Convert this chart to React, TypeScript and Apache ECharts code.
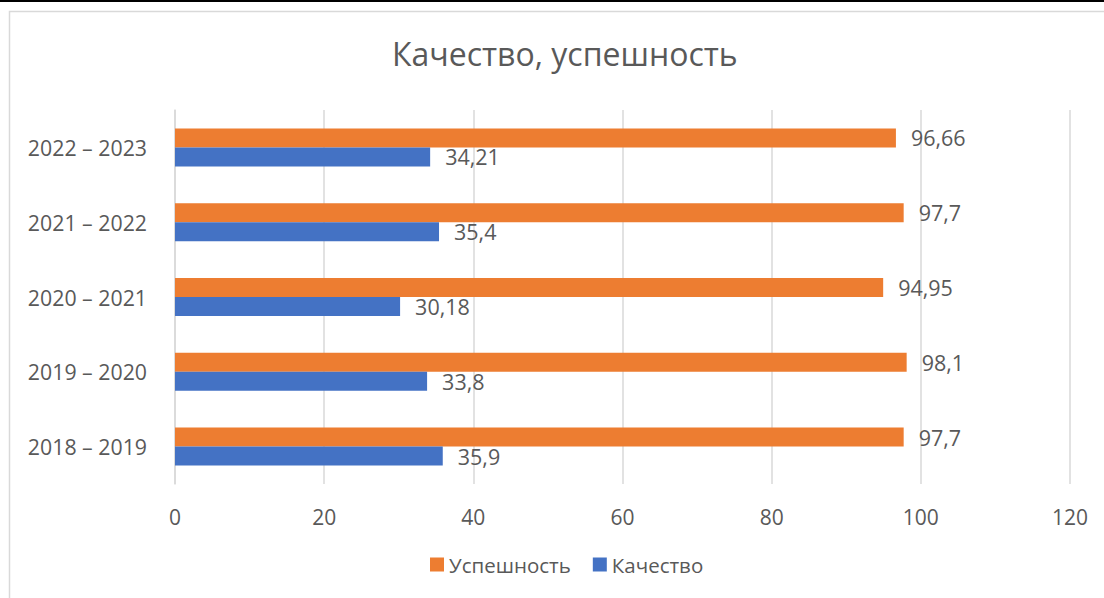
import React, { useEffect, useRef } from "react";
import * as echarts from "echarts";

const categories = ["2018 – 2019", "2019 – 2020", "2020 – 2021", "2021 – 2022", "2022 – 2023"];
const kachestvo = [35.9, 33.8, 30.18, 35.4, 34.21];
const uspeshnost = [97.7, 98.1, 94.95, 97.7, 96.66];
const xTicks = { min: 0, max: 120, interval: 20 };

const FONT = "'Open Sans', sans-serif";
const TEXT = "#595959";

export default function App() {
  const ref = useRef<HTMLDivElement>(null);
  useEffect(() => {
    if (!ref.current) return;
    const chart = echarts.init(ref.current, null, { renderer: "svg" });
    const fmt = (p: any) => String(p.value).replace(".", ",");
    chart.setOption({
      animation: false,
      backgroundColor: "#ffffff",
      textStyle: { fontFamily: FONT },
      title: {
        text: "Качество, успешность",
        left: 387,
        top: 32,
        textStyle: { fontFamily: FONT, fontSize: 32, fontWeight: "normal", color: TEXT },
      },
      graphic: [
        { type: "rect", shape: { x: 0, y: 0, width: 1104, height: 2 }, style: { fill: "#000" }, silent: true },
        {
          type: "rect",
          shape: { x: 9.5, y: 11.5, width: 1200, height: 700 },
          style: { fill: "none", stroke: "#d9d9d9", lineWidth: 1.5 },
          silent: true,
        },
      ],
      legend: {
        data: ["Успешность", "Качество"],
        bottom: 18,
        left: 425,
        icon: "rect",
        itemWidth: 14,
        itemHeight: 14,
        itemGap: 22,
        textStyle: { fontFamily: FONT, fontSize: 20.5, color: TEXT },
      },
      grid: { left: 175, right: 34, top: 110, bottom: 114, containLabel: false },
      xAxis: {
        type: "value",
        min: xTicks.min,
        max: xTicks.max,
        interval: xTicks.interval,
        axisLine: { show: false },
        axisTick: { show: false },
        splitLine: { show: true, lineStyle: { color: "#d9d9d9", width: 1.5 } },
        axisLabel: { fontFamily: FONT, fontSize: 21, color: TEXT, margin: 22 },
      },
      yAxis: {
        type: "category",
        data: categories,
        axisLine: { show: true, lineStyle: { color: "#d9d9d9", width: 1.5 } },
        axisTick: { show: false },
        axisLabel: { fontFamily: FONT, fontSize: 21.3, color: TEXT, margin: 28 },
      },
      series: [
        {
          name: "Успешность",
          type: "bar",
          data: uspeshnost,
          barWidth: 19,
          barGap: "0%",
          itemStyle: { color: "#ED7D31" },
          label: { show: true, position: "right", distance: 15, formatter: fmt, fontFamily: FONT, fontSize: 21.5, color: TEXT },
        },
        {
          name: "Качество",
          type: "bar",
          data: kachestvo,
          barWidth: 19,
          barGap: "0%",
          itemStyle: { color: "#4472C4" },
          label: { show: true, position: "right", distance: 15, formatter: fmt, fontFamily: FONT, fontSize: 21.5, color: TEXT },
        },
      ],
    });
    return () => chart.dispose();
  }, []);
  return <div ref={ref} style={{ position: "fixed", left: 0, top: 0, width: 1104, height: 598 }} />;
}
